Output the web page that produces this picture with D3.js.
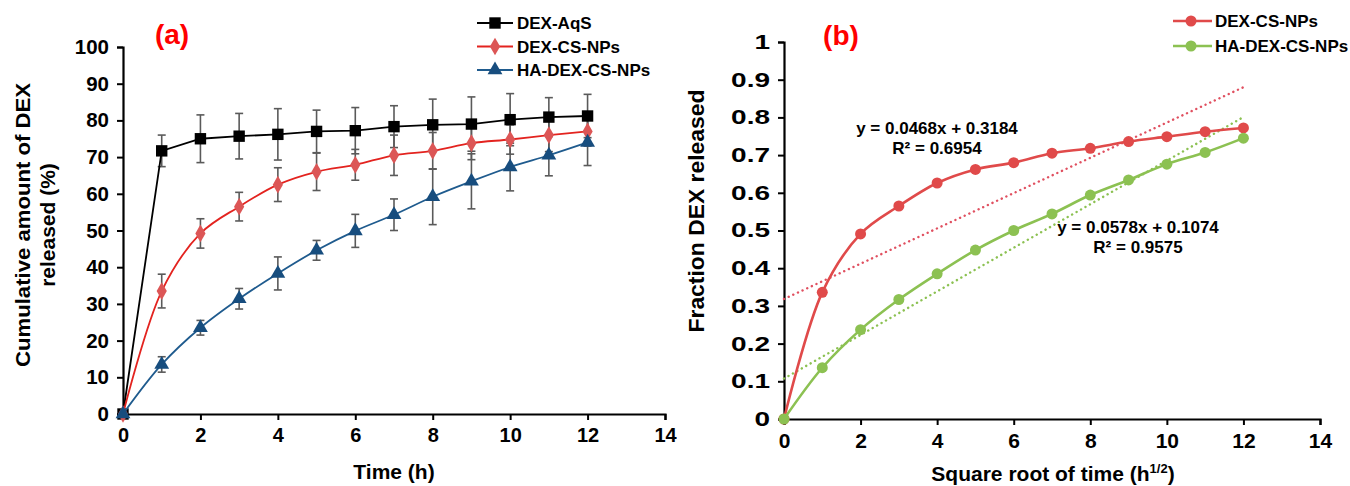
<!DOCTYPE html>
<html>
  <head>
    <title>DEX release</title>
    <script src="https://d3js.org/d3.v7.min.js"></script>
    <style>
      body { margin: 0; background: #fff; }
      text { font-family: "Liberation Sans", Arial, sans-serif; font-weight: bold; }
    </style>
  </head>
  <body>
    <svg width="1350" height="486"></svg>
    <script>
      // panel (a) data: time (h) vs cumulative % released
      const timeA = [0, 1, 2, 3, 4, 5, 6, 7, 8, 9, 10, 11, 12];
      const aqs    = [0, 71.7, 75.0, 75.7, 76.2, 77.0, 77.2, 78.3, 78.8, 79.0, 80.2, 80.9, 81.2];
      const aqsErr = [0, 4.3, 6.5, 6.2, 7.0, 5.8, 6.3, 5.7, 7.0, 7.4, 7.1, 5.3, 5.9];
      const csNp    = [0, 33.5, 49.2, 56.5, 62.5, 66.0, 67.9, 70.5, 71.7, 73.8, 74.8, 76.0, 77.0];
      const csNpErr = [0, 4.6, 4.0, 3.9, 4.6, 5.1, 4.2, 5.5, 5.0, 4.5, 4.0, 4.5, 4.0];
      const haNp    = [0, 13.5, 23.5, 31.4, 38.3, 44.6, 49.9, 54.3, 59.2, 63.4, 67.3, 70.5, 74.0];
      const haNpErr = [0, 2.1, 2.0, 2.8, 4.5, 2.7, 4.5, 4.3, 7.6, 7.5, 6.5, 5.6, 6.3];
      const legendA = ["DEX-AqS", "DEX-CS-NPs", "HA-DEX-CS-NPs"];

      // panel (b) data: square root of time vs fraction released
      const sqrtT = [0, 1, 2, 3, 4, 5, 6, 7, 8, 9, 10, 11, 12];
      const fracCs = [0, 0.336, 0.491, 0.565, 0.626, 0.662, 0.680, 0.705, 0.718, 0.736, 0.749, 0.762, 0.772];
      const fracHa = [0, 0.136, 0.237, 0.317, 0.385, 0.448, 0.500, 0.544, 0.594, 0.634, 0.676, 0.707, 0.745];
      const legendB = ["DEX-CS-NPs", "HA-DEX-CS-NPs"];
      const fitCs = [0.0468, 0.3184];
      const fitHa = [0.0578, 0.1074];
      const fitLabels = [["y = 0.0468x + 0.3184", "R\u00b2 = 0.6954"], ["y = 0.0578x + 0.1074", "R\u00b2 = 0.9575"]];

      const svg = d3.select("svg");

      // ---------- panel (a)
      const xA = d3.scaleLinear().domain([0, 14]).range([123, 665]);
      const yA = d3.scaleLinear().domain([0, 100]).range([414, 47]);

      const gA = svg.append("g");
      gA.append("g").attr("transform", "translate(0,414)")
        .call(d3.axisBottom(xA).tickValues(d3.range(0, 15, 2)).tickSize(6).tickPadding(8))
        .call(styleAxis, 20);
      gA.append("g").attr("transform", "translate(123,0)")
        .call(d3.axisLeft(yA).tickValues(d3.range(0, 101, 10)).tickSize(6).tickPadding(8))
        .call(styleAxis, 20.5);

      const seriesA = [
        {vals: aqs, err: aqsErr, line: "#000", fill: "#000", shape: d3.symbolSquare, size: 130, curve: d3.curveLinear},
        {vals: csNp, err: csNpErr, line: "#e3231f", fill: "#dc5656", shape: d3.symbolDiamond, size: 90, curve: d3.curveCatmullRom},
        {vals: haNp, err: haNpErr, line: "#1f5b8e", fill: "#174d7e", shape: d3.symbolTriangle, size: 95, curve: d3.curveCatmullRom}
      ];

      seriesA.forEach(s => {
        const pts = timeA.map((t, i) => ({x: t, y: s.vals[i], e: s.err[i]}));
        const eb = gA.append("g").attr("stroke", "#5a5a5a").attr("stroke-width", 1.6);
        pts.filter(p => p.e > 0).forEach(p => {
          const cx = xA(p.x), t = yA(p.y + p.e), b = yA(p.y - p.e);
          eb.append("line").attr("x1", cx).attr("x2", cx).attr("y1", t).attr("y2", b);
          eb.append("line").attr("x1", cx - 4).attr("x2", cx + 4).attr("y1", t).attr("y2", t);
          eb.append("line").attr("x1", cx - 4).attr("x2", cx + 4).attr("y1", b).attr("y2", b);
        });
      });
      seriesA.forEach(s => {
        const pts = timeA.map((t, i) => ({x: t, y: s.vals[i]}));
        gA.append("path").datum(pts)
          .attr("fill", "none").attr("stroke", s.line).attr("stroke-width", 1.8)
          .attr("d", d3.line().x(d => xA(d.x)).y(d => yA(d.y)).curve(s.curve));
        gA.selectAll(null).data(pts).join("path")
          .attr("transform", d => `translate(${xA(d.x)},${yA(d.y)})`)
          .attr("fill", s.fill)
          .attr("d", d3.symbol(s.shape, s.size));
      });

      // legend (a)
      seriesA.forEach((s, i) => {
        const y = 23 + i * 23.5;
        gA.append("line").attr("x1", 477).attr("x2", 513).attr("y1", y).attr("y2", y)
          .attr("stroke", s.line).attr("stroke-width", 1.8);
        gA.append("path").attr("transform", `translate(495,${y})`)
          .attr("fill", s.fill).attr("d", d3.symbol(s.shape, s.size)());
        gA.append("text").attr("x", 517).attr("y", y + 6).attr("font-size", 17).text(legendA[i]);
      });

      gA.append("text").attr("x", 172).attr("y", 44).attr("text-anchor", "middle")
        .attr("font-size", 28).attr("fill", "#ff0000").text("(a)");
      gA.append("text").attr("x", 394).attr("y", 479).attr("text-anchor", "middle")
        .attr("font-size", 21).text("Time (h)");
      const yTitleA = gA.append("text").attr("transform", "translate(23,225) rotate(-90)")
        .attr("text-anchor", "middle").attr("font-size", 21);
      yTitleA.append("tspan").attr("x", 0).attr("dy", 7)
        .attr("textLength", 284).attr("lengthAdjust", "spacingAndGlyphs")
        .text("Cumulative amount of  DEX");
      yTitleA.append("tspan").attr("x", 0).attr("dy", 25).text("released (%)");

      // ---------- panel (b)
      const xB = d3.scaleLinear().domain([0, 14]).range([784, 1320]);
      const yB = d3.scaleLinear().domain([0, 1]).range([419, 42]);

      const gB = svg.append("g");
      gB.append("g").attr("transform", "translate(0,419)")
        .call(d3.axisBottom(xB).tickValues(d3.range(0, 15, 2)).tickSize(6).tickPadding(8))
        .call(styleAxis, 21);
      gB.append("g").attr("transform", "translate(784,0)")
        .call(d3.axisLeft(yB).tickValues(d3.range(0, 11).map(d => d / 10))
          .tickFormat(d => d === 0 ? "0" : d === 1 ? "1" : d3.format(".1f")(d))
          .tickSize(6).tickPadding(8))
        .call(styleAxis, 20)
        // the y labels on this panel are drawn wider than the rest
        .call(g => g.selectAll(".tick text").attr("x", -14 / 1.4)
          .attr("transform", "scale(1.4,1)"));

      const seriesB = [
        {vals: fracCs, fit: fitCs, color: "#e04a4a", trend: "#e05060"},
        {vals: fracHa, fit: fitHa, color: "#8cc152", trend: "#8cc152"}
      ];

      seriesB.forEach(s => {
        const ends = [0, 12].map(x => ({x: x, y: s.fit[0] * x + s.fit[1]}));
        gB.append("path").datum(ends)
          .attr("fill", "none").attr("stroke", s.trend).attr("stroke-width", 2.4)
          .attr("stroke-dasharray", "0.1,5").attr("stroke-linecap", "round")
          .attr("d", d3.line().x(d => xB(d.x)).y(d => yB(d.y)));
      });
      seriesB.forEach(s => {
        const pts = sqrtT.map((t, i) => ({x: t, y: s.vals[i]}));
        gB.append("path").datum(pts)
          .attr("fill", "none").attr("stroke", s.color).attr("stroke-width", 2.6)
          .attr("d", d3.line().x(d => xB(d.x)).y(d => yB(d.y)).curve(d3.curveCatmullRom));
        gB.selectAll(null).data(pts).join("circle")
          .attr("cx", d => xB(d.x)).attr("cy", d => yB(d.y)).attr("r", 5.5)
          .attr("fill", s.color);
      });

      // fit labels
      [[937, 134], [1138, 233]].forEach((p, i) => {
        gB.append("text").attr("x", p[0]).attr("y", p[1]).attr("text-anchor", "middle")
          .attr("font-size", 17).text(fitLabels[i][0]);
        gB.append("text").attr("x", p[0]).attr("y", p[1] + 20).attr("text-anchor", "middle")
          .attr("font-size", 17).text(fitLabels[i][1]);
      });

      // legend (b)
      seriesB.forEach((s, i) => {
        const y = 21 + i * 25;
        gB.append("line").attr("x1", 1173).attr("x2", 1212).attr("y1", y).attr("y2", y)
          .attr("stroke", s.color).attr("stroke-width", 2.6);
        gB.append("circle").attr("cx", 1191).attr("cy", y).attr("r", 5.5).attr("fill", s.color);
        gB.append("text").attr("x", 1215).attr("y", y + 6).attr("font-size", 17).text(legendB[i]);
      });

      gB.append("text").attr("x", 841).attr("y", 45).attr("text-anchor", "middle")
        .attr("font-size", 28).attr("fill", "#ff0000").text("(b)");
      const xTitleB = gB.append("text").attr("x", 1053).attr("y", 481).attr("text-anchor", "middle")
        .attr("font-size", 21);
      xTitleB.append("tspan").text("Square root of time (h");
      xTitleB.append("tspan").attr("font-size", 13).attr("dy", -8).text("1/2");
      xTitleB.append("tspan").attr("dy", 8).text(")");
      gB.append("text").attr("transform", "translate(697,211) rotate(-90)")
        .attr("text-anchor", "middle").attr("dy", 7).attr("font-size", 22)
        .attr("textLength", 243).attr("lengthAdjust", "spacingAndGlyphs")
        .text("Fraction DEX released");

      function styleAxis(g, fs) {
        g.select(".domain").attr("stroke", "#000").attr("stroke-width", 2.2);
        g.selectAll(".tick line").attr("stroke", "#000").attr("stroke-width", 2);
        g.selectAll(".tick text").attr("font-size", fs).attr("fill", "#000")
          .attr("font-family", "'Liberation Sans', Arial, sans-serif").attr("font-weight", "bold");
      }
    </script>
  </body>
</html>
